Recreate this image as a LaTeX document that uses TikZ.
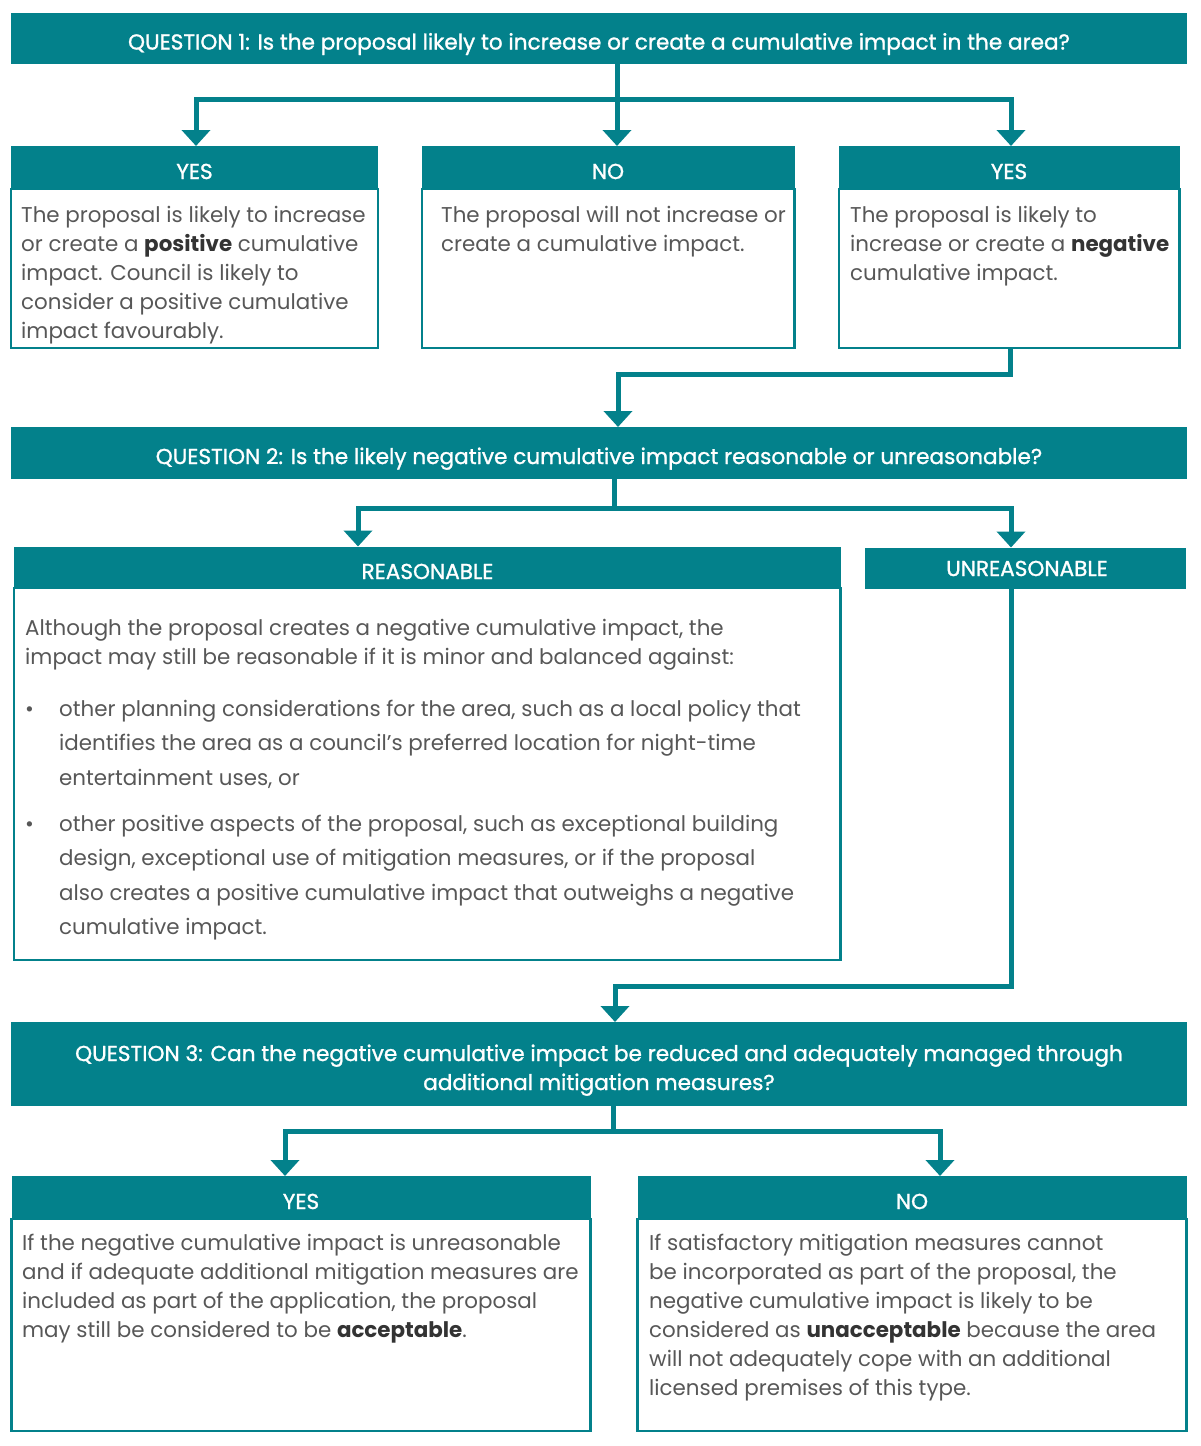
\documentclass[tikz,border=0pt]{standalone}
\usepackage{fontspec}
\setmainfont{Poppins}
\newfontfamily\headfont{Poppins}[FakeBold=1.2]
\usetikzlibrary{arrows.meta}
\definecolor{vteal}{HTML}{03818B}
\definecolor{txtgray}{HTML}{575757}
\definecolor{boldgray}{HTML}{333333}
\newcommand{\strongtxt}[1]{\textbf{\color{boldgray}#1}}
\tikzset{
  bar/.style={fill=vteal, draw=none, inner sep=0pt, outer sep=0pt, anchor=north west},
  frame/.style={draw=vteal, line width=2.5pt, inner sep=0pt, outer sep=0pt, anchor=north west},
  conn/.style={draw=vteal, line width=5pt},
  arr/.style={conn, -{Triangle[width=28pt,length=16pt]}},
  headtxt/.style={text=white, inner sep=0pt, anchor=base, align=center, font=\headfont\fontsize{21.6}{29}\selectfont},
  bodytxt/.style={text=txtgray, inner sep=0pt, anchor=base west, align=left, font=\fontsize{21.4}{29}\selectfont},
  bullettxt/.style={text=txtgray, inner sep=0pt, anchor=base west, align=left, font=\fontsize{21.4}{34.3}\selectfont},
}
\begin{document}
\begin{tikzpicture}[x=1pt,y=-1pt]
\useasboundingbox (0,0) rectangle (1200,1446);
% ---------- Question 1
\node[bar, minimum width=1176pt, minimum height=51pt] (q1) at (11,13) {};
\node[headtxt] (q1t) at (599,49.5) {QUESTION 1: Is the proposal likely to increase or create a cumulative impact in the area?};
% YES (positive)
\node[frame, minimum width=367pt, minimum height=159pt] (ab) at (11,189) {};
\node[bar, minimum width=367pt, minimum height=43pt] (ah) at (11,146) {};
\node[headtxt] (aht) at (194.5,179) {YES};
\node[bodytxt] (abt) at (21,338) {The proposal is likely to increase\\or create a \strongtxt{positive} cumulative\\impact. Council is likely to\\consider a positive cumulative\\impact favourably.};
% NO
\node[frame, minimum width=372.5pt, minimum height=159pt] (bb) at (422,189) {};
\node[bar, minimum width=372.5pt, minimum height=43pt] (bh) at (422,146) {};
\node[headtxt] (bht) at (608,179) {NO};
\node[bodytxt] (bbt) at (441,251) {The proposal will not increase or\\create a cumulative impact.};
% YES (negative)
\node[frame, minimum width=340.5pt, minimum height=159pt] (cb) at (839,189) {};
\node[bar, minimum width=340.5pt, minimum height=43pt] (ch) at (839,146) {};
\node[headtxt] (cht) at (1009,179) {YES};
\node[bodytxt] (cbt) at (850,280) {The proposal is likely to\\increase or create a \strongtxt{negative}\\cumulative impact.};
% ---------- Question 2
\node[bar, minimum width=1176pt, minimum height=52pt] (q2) at (11,427) {};
\node[headtxt] (q2t) at (599,464) {QUESTION 2: Is the likely negative cumulative impact reasonable or unreasonable?};
% REASONABLE
\node[frame, minimum width=826.5pt, minimum height=372pt] (rb) at (14,588) {};
\node[bar, minimum width=826.5pt, minimum height=41.5pt] (rh) at (14,546.5) {};
\node[headtxt] (rht) at (427.5,579) {REASONABLE};
\node[bodytxt] (rbt) at (25,664.5) {Although the proposal creates a negative cumulative impact, the\\impact may still be reasonable if it is minor and balanced against:};
\node[bodytxt] (rbul1) at (25,716.5) {•};
\node[bullettxt] (rbt1) at (59,785.1) {other planning considerations for the area, such as a local policy that\\identifies the area as a council’s preferred location for night-time\\entertainment uses, or};
\node[bodytxt] (rbul2) at (25,831.5) {•};
\node[bullettxt] (rbt2) at (59,934.4) {other positive aspects of the proposal, such as exceptional building\\design, exceptional use of mitigation measures, or if the proposal\\also creates a positive cumulative impact that outweighs a negative\\cumulative impact.};
% UNREASONABLE
\node[bar, minimum width=321pt, minimum height=41.5pt] (uh) at (865,547.5) {};
\node[headtxt] (uht) at (1027,576) {UNREASONABLE};
% ---------- Question 3
\node[bar, minimum width=1176pt, minimum height=84pt] (q3) at (11,1022) {};
\node[headtxt] (q3t) at (599,1090) {QUESTION 3: Can the negative cumulative impact be reduced and adequately managed through\\additional mitigation measures?};
% YES (acceptable)
\node[frame, minimum width=579pt, minimum height=212pt] (db) at (11.5,1219) {};
\node[bar, minimum width=579pt, minimum height=43pt] (dh) at (11.5,1176) {};
\node[headtxt] (dht) at (301,1209) {YES};
\node[bodytxt] (dbt) at (22,1337.5) {If the negative cumulative impact is unreasonable\\and if adequate additional mitigation measures are\\included as part of the application, the proposal\\may still be considered to be \strongtxt{acceptable}.};
% NO (unacceptable)
\node[frame, minimum width=549pt, minimum height=212pt] (eb) at (637.5,1219) {};
\node[bar, minimum width=549pt, minimum height=43pt] (eh) at (637.5,1176) {};
\node[headtxt] (eht) at (912,1209) {NO};
\node[bodytxt] (ebt) at (649,1395.5) {If satisfactory mitigation measures cannot\\be incorporated as part of the proposal, the\\negative cumulative impact is likely to be\\considered as \strongtxt{unacceptable} because the area\\will not adequately cope with an additional\\licensed premises of this type.};
% ---------- connectors
\coordinate (j1) at (617,99.5);
\coordinate (j1l) at (196,99.5);
\coordinate (j1r) at (1011,99.5);
\draw[conn] (q1.south -| j1) -- (j1);
\draw[arr] (j1) -- (j1l) -- (j1l |- ah.north);
\draw[arr] (j1) -- (j1 |- bh.north);
\draw[arr] (j1) -- (j1r) -- (j1r |- ch.north);
\coordinate (j2r) at (1010,374.5);
\coordinate (j2l) at (618,374.5);
\draw[arr] (cb.south -| j2r) -- (j2r) -- (j2l) -- (j2l |- q2.north);
\coordinate (j3) at (614,508);
\coordinate (j3l) at (358,508);
\coordinate (j3r) at (1011,508);
\draw[conn] (q2.south -| j3) -- (j3);
\draw[arr] (j3) -- (j3l) -- (j3l |- rh.north);
\draw[arr] (j3) -- (j3r) -- (j3r |- uh.north);
\coordinate (j4r) at (1011,986.5);
\coordinate (j4l) at (615,986.5);
\draw[arr] (uh.south -| j4r) -- (j4r) -- (j4l) -- (j4l |- q3.north);
\coordinate (j5) at (613,1131.5);
\coordinate (j5l) at (285,1131.5);
\coordinate (j5r) at (940,1131.5);
\draw[conn] (q3.south -| j5) -- (j5);
\draw[arr] (j5) -- (j5l) -- (j5l |- dh.north);
\draw[arr] (j5) -- (j5r) -- (j5r |- eh.north);
\end{tikzpicture}
\end{document}
